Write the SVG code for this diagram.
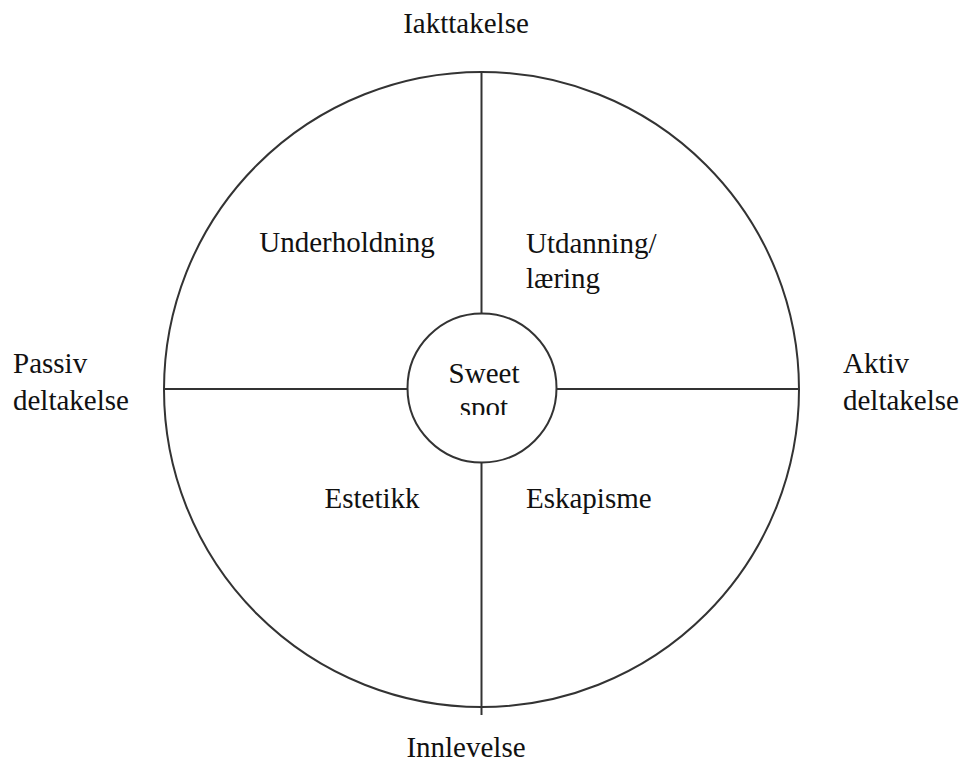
<svg xmlns="http://www.w3.org/2000/svg" width="965" height="764" viewBox="0 0 965 764">
<style>
.ln{stroke:#333;stroke-width:2;fill:none}
.t{font-family:"Liberation Serif","Times New Roman",serif;font-size:29px;fill:#111}
</style>
<defs>
<clipPath id="spotclip"><rect x="400" y="300" width="170" height="115"/></clipPath>
</defs>
<rect width="965" height="764" fill="#fff"/>
<g id="connectors">
<line class="ln" x1="481.5" y1="73" x2="481.5" y2="314"/>
<line class="ln" x1="481.5" y1="462" x2="481.5" y2="715"/>
<line class="ln" x1="164" y1="389" x2="407" y2="389"/>
<line class="ln" x1="557" y1="389" x2="799" y2="389"/>
</g>
<g id="outer-circle"><circle class="ln" cx="481.5" cy="389.5" r="317.5"/></g>
<g id="sweet-spot">
<circle class="ln" cx="482" cy="388" r="74.5"/>
<g clip-path="url(#spotclip)">
<text class="t" x="484" y="383" text-anchor="middle">Sweet</text>
<text class="t" x="484" y="417" text-anchor="middle">spot</text>
</g>
</g>
<g id="iakttakelse"><text class="t" x="466" y="33" text-anchor="middle">Iakttakelse</text></g>
<g id="innlevelse"><text class="t" x="466" y="757" text-anchor="middle">Innlevelse</text></g>
<g id="passiv"><text class="t" x="13" y="373">Passiv</text><text class="t" x="13" y="410">deltakelse</text></g>
<g id="aktiv"><text class="t" x="843" y="373">Aktiv</text><text class="t" x="843" y="410">deltakelse</text></g>
<g id="underholdning"><text class="t" x="347" y="252" text-anchor="middle">Underholdning</text></g>
<g id="utdanning"><text class="t" x="526" y="253">Utdanning/</text><text class="t" x="526" y="288">læring</text></g>
<g id="estetikk"><text class="t" x="372" y="508" text-anchor="middle">Estetikk</text></g>
<g id="eskapisme"><text class="t" x="526" y="508">Eskapisme</text></g>
</svg>
